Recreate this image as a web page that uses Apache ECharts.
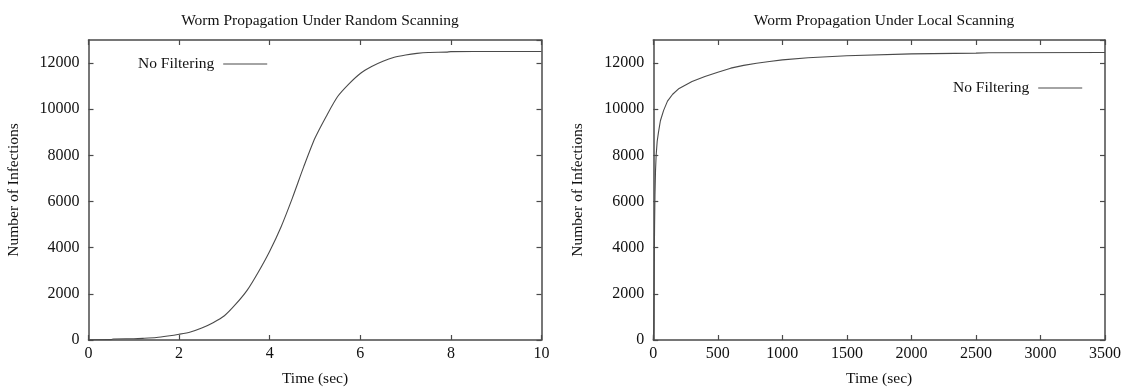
<!DOCTYPE html>
<html>
<head>
<meta charset="utf-8">
<script src="https://cdn.jsdelivr.net/npm/echarts@6/dist/echarts.min.js"></script>
<style>
html,body{margin:0;padding:0;background:#fff;}
#chart{width:1128px;height:392px;}
</style>
</head>
<body>
<div id="chart"></div>
<script>
// ---- data ----
const titles = ['Worm Propagation Under Random Scanning', 'Worm Propagation Under Local Scanning'];
const seriesName = 'No Filtering';
const xAxisName = 'Time (sec)';
const yAxisName = 'Number of Infections';

const randomTime = [0, 0.5, 0.55, 1.0, 1.2, 1.5, 1.75, 2.0, 2.25, 2.5, 2.75, 3.0, 3.25, 3.5, 3.75, 4.0, 4.25, 4.5, 4.75, 5.0, 5.25, 5.5, 5.75, 6.0, 6.25, 6.5, 6.75, 7.0, 7.25, 7.5, 7.9, 8.0, 9.0, 10.0];
const randomInfections = [10, 15, 45, 55, 70, 105, 170, 250, 350, 520, 750, 1050, 1550, 2150, 2950, 3850, 4900, 6150, 7500, 8750, 9700, 10550, 11100, 11550, 11850, 12080, 12250, 12350, 12420, 12460, 12475, 12495, 12500, 12500];

const localTime = [0, 3, 6, 8, 10, 13, 17, 22, 30, 40, 55, 80, 110, 150, 200, 250, 300, 400, 500, 600, 700, 800, 900, 1000, 1200, 1500, 2000, 2500, 2600, 3500];
const localInfections = [0, 500, 2500, 3700, 5000, 6300, 7300, 8000, 8600, 9000, 9500, 9950, 10350, 10650, 10900, 11050, 11200, 11420, 11600, 11780, 11900, 11990, 12070, 12140, 12230, 12320, 12400, 12430, 12450, 12460];

const randomXTicks = {min: 0, max: 10, interval: 2};
const localXTicks = {min: 0, max: 3500, interval: 500};
const yTicks = {min: 0, max: 13000, interval: 2000};

// ---- chart ----
const FONT = '"Liberation Serif", "Times New Roman", serif';
const TEXT = '#111111';
const AXIS = '#4a4a4a';
const LINE = '#4a4a4a';

const grids = [
  {left: 88.5, right: 1128 - 541.5, top: 40, height: 304},
  {left: 653.3, right: 1128 - 1105, top: 40, height: 304}
];

function pairs(xs, ys) { return xs.map((x, i) => [x, ys[i]]); }
const plain = v => String(v);

function xAxes(gi, ticks) {
  return [
    {type: 'value', gridIndex: gi, min: ticks.min, max: ticks.max, interval: ticks.interval,
     name: xAxisName, nameLocation: 'middle', nameGap: 31,
     nameTextStyle: {fontFamily: FONT, fontSize: 15.5, color: TEXT},
     axisLine: {show: true, onZero: false, lineStyle: {color: AXIS, width: 1.5}},
     axisTick: {show: true, inside: true, length: 5, lineStyle: {color: AXIS, width: 1.2}},
     axisLabel: {fontFamily: FONT, fontSize: 16, color: TEXT, margin: 6, formatter: plain},
     splitLine: {show: false}},
    {type: 'value', gridIndex: gi, position: 'top', min: ticks.min, max: ticks.max, interval: ticks.interval,
     axisLine: {show: true, onZero: false, lineStyle: {color: AXIS, width: 1.5}},
     axisTick: {show: true, inside: true, length: 5, lineStyle: {color: AXIS, width: 1.2}},
     axisLabel: {show: false}, splitLine: {show: false}}
  ];
}
function yAxes(gi) {
  return [
    {type: 'value', gridIndex: gi, min: yTicks.min, max: yTicks.max, interval: yTicks.interval,
     name: yAxisName, nameLocation: 'middle', nameGap: 67, nameRotate: 90,
     nameTextStyle: {fontFamily: FONT, fontSize: 15.5, color: TEXT},
     axisLine: {show: true, onZero: false, lineStyle: {color: AXIS, width: 1.5}},
     axisTick: {show: true, inside: true, length: 5, lineStyle: {color: AXIS, width: 1.2}},
     axisLabel: {fontFamily: FONT, fontSize: 16, color: TEXT, margin: 9, showMaxLabel: false, formatter: plain},
     splitLine: {show: false}},
    {type: 'value', gridIndex: gi, position: 'right', min: yTicks.min, max: yTicks.max, interval: yTicks.interval,
     axisLine: {show: true, onZero: false, lineStyle: {color: AXIS, width: 1.5}},
     axisTick: {show: true, inside: true, length: 5, lineStyle: {color: AXIS, width: 1.2}},
     axisLabel: {show: false}, splitLine: {show: false}}
  ];
}

function legend(left, top) {
  return {
    left: left, top: top, padding: 0, orient: 'horizontal', align: 'right',
    data: [seriesName], icon: 'rect', itemWidth: 44, itemHeight: 1.2,
    itemStyle: {color: LINE, borderWidth: 0},
    textStyle: {fontFamily: FONT, fontSize: 15.5, color: TEXT, padding: [0, 4, 0, 0]},
    selectedMode: false
  };
}

const option = {
  animation: false,
  backgroundColor: '#fff',
  title: [
    {text: titles[0], left: 315, top: 8, textAlign: 'center',
     textStyle: {fontFamily: FONT, fontSize: 15.5, fontWeight: 'normal', color: TEXT}},
    {text: titles[1], left: 879, top: 8, textAlign: 'center',
     textStyle: {fontFamily: FONT, fontSize: 15.5, fontWeight: 'normal', color: TEXT}}
  ],
  legend: [legend(138, 56), legend(953, 80)],
  grid: grids,
  xAxis: [...xAxes(0, randomXTicks), ...xAxes(1, localXTicks)],
  yAxis: [...yAxes(0), ...yAxes(1)],
  series: [
    {name: seriesName, type: 'line', xAxisIndex: 0, yAxisIndex: 0, showSymbol: false, symbol: 'none',
     smooth: 0.25, data: pairs(randomTime, randomInfections),
     lineStyle: {color: LINE, width: 1.1}, itemStyle: {color: LINE}},
    {name: seriesName, type: 'line', xAxisIndex: 2, yAxisIndex: 2, showSymbol: false, symbol: 'none',
     smooth: false, data: pairs(localTime, localInfections),
     lineStyle: {color: LINE, width: 1.1}, itemStyle: {color: LINE}}
  ]
};

const chart = echarts.init(document.getElementById('chart'), null, {renderer: 'canvas'});
chart.setOption(option);
</script>
</body>
</html>
